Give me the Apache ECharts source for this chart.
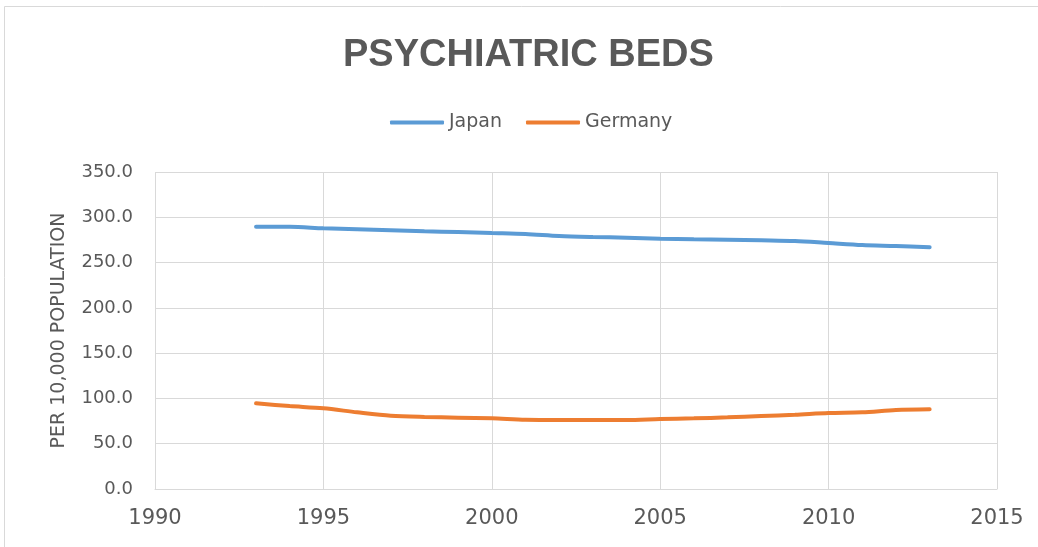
<!DOCTYPE html>
<html>
<head>
<meta charset="utf-8">
<script src="https://cdn.jsdelivr.net/npm/echarts@6/dist/echarts.min.js"></script>
<style>
html,body{margin:0;padding:0;background:#fff;}
#chart{width:1038px;height:547px;}
</style>
</head>
<body>
<div id="chart"></div>
<script>
const years = [1993,1994,1995,1996,1997,1998,1999,2000,2001,2002,2003,2004,2005,2006,2007,2008,2009,2010,2011,2012,2013];
const japan = [289.6,289.6,287.8,286.7,285.6,284.5,283.7,282.6,281.5,279.3,278.2,277.5,276.4,275.7,275.3,274.6,273.8,271.6,269.4,268.3,266.9];
const germany = [94.6,91.6,89.1,84.7,80.9,79.5,78.8,78.0,76.5,76.2,76.2,76.2,77.3,78.0,79.1,80.6,82.0,83.9,84.7,87.2,88.0];
const seriesNames = ['Japan','Germany'];
const titleText = 'PSYCHIATRIC BEDS';
const yAxisName = 'PER 10,000 POPULATION';

const chart = echarts.init(document.getElementById('chart'), null, {renderer:'canvas'});
const txt = '#595959';
const grid = '#D9D9D9';
const font = 'DejaVu Sans';
chart.setOption({
  animation:false,
  backgroundColor:'#fff',
  graphic:[{type:'rect',shape:{x:4.5,y:6.5,width:1100,height:600},style:{fill:'none',stroke:grid,lineWidth:1},silent:true}],
  title:{text:titleText,left:338,top:32,textStyle:{color:txt,fontFamily:'Liberation Sans',fontWeight:'bold',fontSize:38}},
  legend:{data:seriesNames.map(n=>({name:n,icon:'roundRect'})),left:385,top:108,itemWidth:54,itemHeight:4,itemGap:24,
    textStyle:{color:txt,fontFamily:font,fontSize:19}},
  grid:{left:155,right:41,top:172,bottom:58,containLabel:false},
  xAxis:{type:'value',min:1990,max:2015,interval:5,
    axisLine:{show:true,lineStyle:{color:grid}},axisTick:{show:false},
    splitLine:{show:true,lineStyle:{color:grid}},
    axisLabel:{color:txt,fontFamily:font,fontSize:21,margin:19,formatter:v=>String(v)}},
  yAxis:{type:'value',min:0,max:350,interval:50,
    name:yAxisName,nameLocation:'middle',nameRotate:90,nameGap:86,
    nameTextStyle:{color:txt,fontFamily:font,fontSize:19},
    axisLine:{show:false},axisTick:{show:false},
    splitLine:{show:true,lineStyle:{color:grid}},
    axisLabel:{color:txt,fontFamily:font,fontSize:18,margin:22,formatter:v=>v.toFixed(1)}},
  series:[
    {name:seriesNames[0],type:'line',smooth:0.3,symbol:'none',data:years.map((y,i)=>[y,japan[i]]),
      lineStyle:{color:'#5B9BD5',width:4,cap:'round'},itemStyle:{color:'#5B9BD5'}},
    {name:seriesNames[1],type:'line',smooth:0.3,symbol:'none',data:years.map((y,i)=>[y,germany[i]]),
      lineStyle:{color:'#ED7D31',width:4,cap:'round'},itemStyle:{color:'#ED7D31'}}
  ]
});
</script>
</body>
</html>
